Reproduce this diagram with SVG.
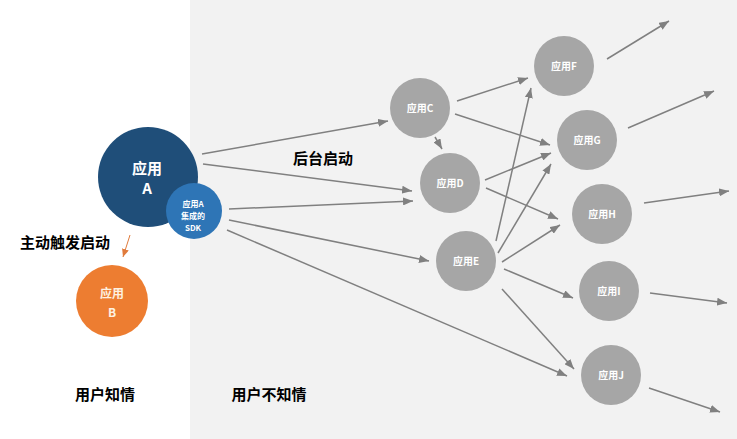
<svg xmlns="http://www.w3.org/2000/svg" width="737" height="439" viewBox="0 0 737 439">
<defs>
<style>
.lbl{font-family:"Noto Sans CJK SC","Noto Sans",sans-serif;fill:#000;font-size:15px;font-weight:bold;text-anchor:middle}
.g{fill:#a6a6a6}
.gt{font-family:"Noto Sans CJK SC","Noto Sans",sans-serif;fill:#fff;font-size:10px;font-weight:bold;text-anchor:middle}
.wt{font-family:"Noto Sans CJK SC","Noto Sans",sans-serif;fill:#fff;font-weight:bold;text-anchor:middle}
.c line{stroke:#808080;stroke-width:1.5;marker-end:url(#ah)}
</style>
<marker id="ah" markerUnits="userSpaceOnUse" markerWidth="10" markerHeight="8" refX="10" refY="4" orient="auto"><path d="M0,0 L10,4 L0,8 Z" fill="#808080"/></marker>
<marker id="ao" markerUnits="userSpaceOnUse" markerWidth="8" markerHeight="7" refX="8" refY="3.5" orient="auto"><path d="M0,0 L8,3.5 L0,7 Z" fill="#e07b3c"/></marker>
</defs>
<rect x="0" y="0" width="737" height="439" fill="#ffffff"/>
<rect x="190" y="0" width="547" height="439" fill="#f2f2f2"/>
<g id="connectors" class="c">
<line x1="202" y1="154" x2="388" y2="121"/>
<line x1="203" y1="164" x2="412" y2="191"/>
<line x1="229" y1="209" x2="413" y2="201"/>
<line x1="229" y1="220" x2="429" y2="261"/>
<line x1="227" y1="230" x2="567" y2="376"/>
<line x1="435" y1="137" x2="442" y2="149"/>
<line x1="457" y1="101" x2="528" y2="78"/>
<line x1="455" y1="114" x2="550" y2="145"/>
<line x1="485" y1="180" x2="551" y2="153"/>
<line x1="486" y1="188" x2="558" y2="219"/>
<line x1="496" y1="241" x2="531" y2="88"/>
<line x1="498" y1="253" x2="551" y2="164"/>
<line x1="502" y1="262" x2="560" y2="225"/>
<line x1="504" y1="269" x2="573" y2="298"/>
<line x1="502" y1="289" x2="574" y2="369"/>
<line x1="607" y1="59" x2="669" y2="21"/>
<line x1="628" y1="128" x2="714" y2="91"/>
<line x1="644" y1="203" x2="729" y2="191"/>
<line x1="650" y1="293" x2="727" y2="303"/>
<line x1="649" y1="388" x2="720" y2="412"/>
<line x1="130" y1="235" x2="123" y2="257" style="stroke:#e07b3c;stroke-width:1;marker-end:url(#ao)"/>
</g>
<g id="nodeA"><circle cx="148" cy="177" r="50" fill="#1f4e79"/><text class="wt" x="147" y="174" font-size="15">应用</text><text class="wt" x="147" y="194" font-size="15">A</text></g>
<g id="nodeSDK"><circle cx="194" cy="211" r="28" fill="#2e75b6"/><text class="wt" x="193" y="207" font-size="8">应用A</text><text class="wt" x="193" y="219" font-size="8">集成的</text><text class="wt" x="193" y="231" font-size="8">SDK</text></g>
<g id="nodeB"><circle cx="112" cy="301" r="36" fill="#ed7d31"/><text class="wt" x="112" y="298" font-size="12" style="fill:#fdf1e0">应用</text><text class="wt" x="112" y="317" font-size="12" style="fill:#fdf1e0">B</text></g>
<g id="nodeC"><circle class="g" cx="420" cy="108" r="30"/><text class="gt" x="420" y="112">应用C</text></g>
<g id="nodeD"><circle class="g" cx="450" cy="183" r="30"/><text class="gt" x="450" y="187">应用D</text></g>
<g id="nodeE"><circle class="g" cx="466" cy="261" r="30"/><text class="gt" x="466" y="265">应用E</text></g>
<g id="nodeF"><circle class="g" cx="564" cy="66" r="30"/><text class="gt" x="564" y="70">应用F</text></g>
<g id="nodeG"><circle class="g" cx="587" cy="140" r="30"/><text class="gt" x="587" y="144">应用G</text></g>
<g id="nodeH"><circle class="g" cx="602" cy="214" r="30"/><text class="gt" x="602" y="218">应用H</text></g>
<g id="nodeI"><circle class="g" cx="609" cy="291" r="30"/><text class="gt" x="609" y="295">应用I</text></g>
<g id="nodeJ"><circle class="g" cx="611" cy="375" r="30"/><text class="gt" x="611" y="379">应用J</text></g>
<g id="labels">
<text class="lbl" x="65" y="248">主动触发启动</text>
<text class="lbl" x="323" y="164">后台启动</text>
<text class="lbl" x="105" y="400">用户知情</text>
<text class="lbl" x="269" y="400">用户不知情</text>
</g>
</svg>
